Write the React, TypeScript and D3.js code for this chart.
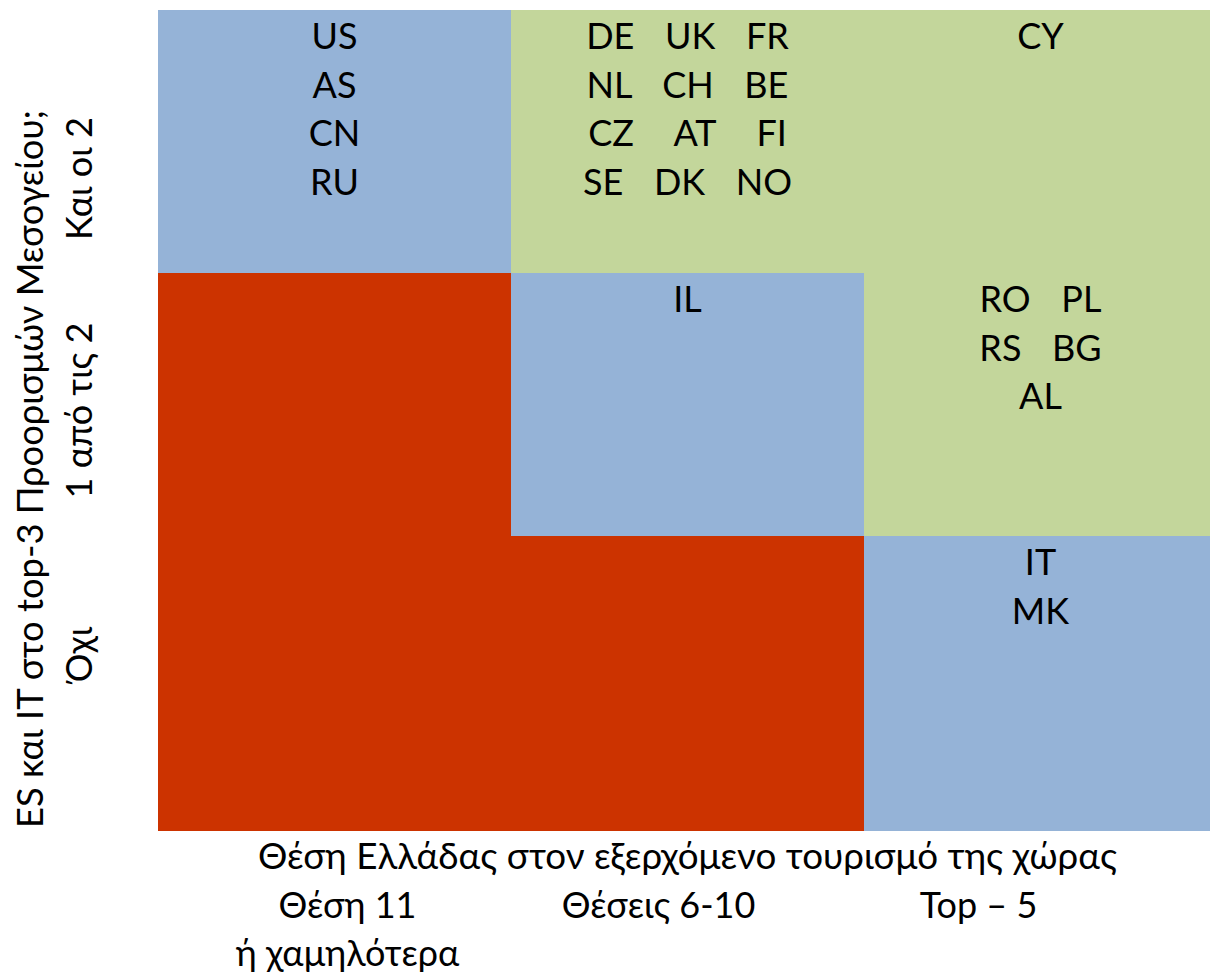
import React from 'react';
import * as d3 from 'd3';

// Θέση της Ελλάδας (στήλες) x ES/IT στο top-3 (γραμμές)
const columns = ['Θέση 11 ή χαμηλότερα', 'Θέσεις 6-10', 'Top – 5'];
const rows = ['Και οι 2', '1 από τις 2', 'Όχι'];

// category per cell, row by row
const cellCategory = [
    ['blue', 'green', 'green'],
    ['red', 'blue', 'green'],
    ['red', 'red', 'blue'],
];

// country codes per cell, one string per text line
const cellCountries = [
    [['US', 'AS', 'CN', 'RU'], ['DE   UK   FR', 'NL   CH   BE', 'CZ    AT    FI', 'SE   DK   NO'], ['CY']],
    [[], ['IL'], ['RO   PL', 'RS   BG', 'AL']],
    [[], [], ['IT', 'MK']],
];

const xTitle = 'Θέση Ελλάδας στον εξερχόμενο τουρισμό της χώρας';
const xLabels = [['Θέση 11', 'ή χαμηλότερα'], ['Θέσεις 6-10'], ['Top – 5']];
const yTitle = 'ES και IT στο top-3 Προορισμών Μεσογείου;';

const width = 1210;
const height = 974;
const font = "Lato, 'Open Sans', 'Noto Sans', sans-serif";
const fontSize = 36;
const lineH = 48.7;

export default function App() {
    let margin = {top: 10, left: 158, right: -7, bottom: 143}
    let plotBottom = height - margin.bottom

    let x = d3.scaleBand().domain(columns).range([margin.left, width - margin.right])
    // the bottom row is a little taller than the other two
    let y = d3.scaleBand().domain(rows).range([margin.top, plotBottom - 32])
    let colour = d3.scaleOrdinal<string, string>()
        .domain(['blue', 'green', 'red'])
        .range(['#95B3D7', '#C3D69B', '#CC3300'])

    // label offsets from the column / row centres (text was spaced by hand)
    let xLabelShift = [13, -29, -62]
    let yLabelShift = [37, 6, -29]

    let cells = rows.flatMap((r, ri) => columns.map((c, ci) => ({
        r, c, ri, ci,
        cat: cellCategory[ri][ci],
        lines: cellCountries[ri][ci],
    })))

    return (
        <svg width={width} height={height} style={{position: 'absolute', left: 0, top: 0}}
            fontFamily={font} fontSize={fontSize}>
            <rect width={width} height={height} fill="#ffffff" />
            {cells.map((d) => {
                let top = y(d.r)!
                let h = d.ri === rows.length - 1 ? plotBottom - top : y.bandwidth()
                return (
                    <g key={d.r + d.c}>
                        <rect x={x(d.c)} y={top} width={x.bandwidth()} height={h}
                            fill={colour(d.cat)} />
                        {d.lines.map((t, i) => (
                            <text key={i} x={x(d.c)! + x.bandwidth() / 2} y={top + 39 + i * lineH}
                                textAnchor="middle" fill="#000" wordSpacing={1}
                                style={{whiteSpace: 'pre'}}>{t}</text>
                        ))}
                    </g>
                )
            })}

            {/* x axis title + column labels */}
            <text x={(margin.left + width - margin.right) / 2} y={plotBottom + 38} textAnchor="middle"
                textLength={859} lengthAdjust="spacingAndGlyphs">{xTitle}</text>
            {xLabels.map((lines, i) => lines.map((t, j) => (
                <text key={i + '-' + j} x={x(columns[i])! + x.bandwidth() / 2 + xLabelShift[i]}
                    y={plotBottom + 38 + (j + 1) * lineH} textAnchor="middle">{t}</text>
            )))}

            {/* y axis title + row labels, rotated */}
            <text transform={`translate(43,469) rotate(-90)`} textAnchor="middle"
                textLength={718} lengthAdjust="spacingAndGlyphs">{yTitle}</text>
            {rows.map((r, i) => {
                let h = i === rows.length - 1 ? plotBottom - y(r)! : y.bandwidth()
                let cy = y(r)! + h / 2 + yLabelShift[i]
                return (
                    <text key={r} transform={`translate(92,${cy}) rotate(-90)`}
                        textAnchor="middle">{r}</text>
                )
            })}
        </svg>
    )
}
